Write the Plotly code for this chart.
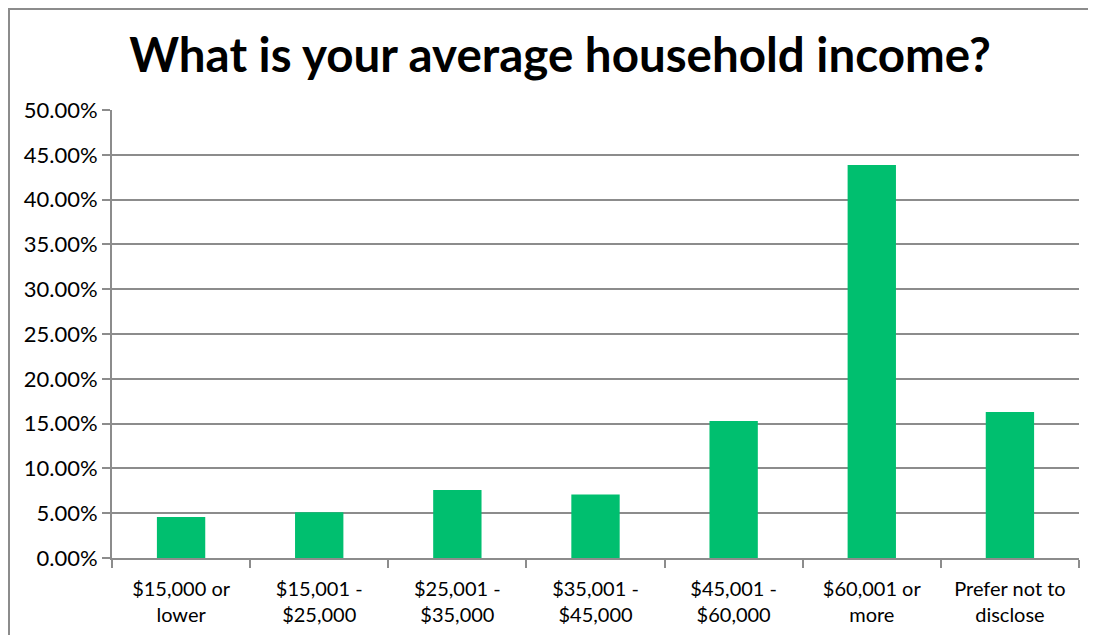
import plotly.graph_objects as go

categories = ["$15,000 or<br>lower", "$15,001 -<br>$25,000", "$25,001 -<br>$35,000",
              "$35,001 -<br>$45,000", "$45,001 -<br>$60,000", "$60,001 or<br>more",
              "Prefer not to<br>disclose"]
values = [0.0458, 0.0510, 0.0759, 0.0710, 0.1529, 0.4386, 0.1629]
y_ticks = [0, 0.05, 0.10, 0.15, 0.20, 0.25, 0.30, 0.35, 0.40, 0.45, 0.50]
y_tick_labels = ["0.00%", "5.00%", "10.00%", "15.00%", "20.00%", "25.00%",
                 "30.00%", "35.00%", "40.00%", "45.00%", "50.00%"]

OFF = 8  # page body margin
W, H = 1096 - 2 * OFF, 643 - 2 * OFF
L, R, T, B = 112 - OFF, 1079 - OFF, 110 - OFF, 558 - OFF

fig = go.Figure(go.Bar(x=categories, y=values, marker=dict(color="#00BF6F", line=dict(width=0)),
                       width=0.35))

grey = "#8C8C8C"
fig.update_layout(
    width=W, height=H,
    margin=dict(l=L, r=W - R, t=T, b=H - B, pad=0),
    paper_bgcolor="white", plot_bgcolor="white",
    font=dict(family="Lato, sans-serif", color="black", size=20),
    title=dict(text="<b>What is your average household income?</b>",
               font=dict(size=47.5, family="Lato, sans-serif", color="black"),
               x=(560 - OFF) / W, xref="container", xanchor="center",
               y=1 - (55 - OFF) / H, yref="container", yanchor="middle"),
    bargap=0.65,
    showlegend=False,
)
fig.update_xaxes(
    showgrid=False, showline=True, linecolor=grey, linewidth=2,
    ticks="outside", ticklen=8, tickcolor=grey, tickwidth=2,
    tickson="boundaries", tickfont=dict(size=20), ticklabelstandoff=12,
)
fig.update_yaxes(
    range=[0, 0.5], tickvals=y_ticks, ticktext=y_tick_labels,
    showgrid=True, gridcolor=grey, gridwidth=2,
    showline=True, linecolor=grey, linewidth=2,
    ticks="outside", ticklen=8, tickcolor=grey, tickwidth=2,
    tickfont=dict(size=22), zeroline=False,
)

def px_x(p):
    return (p - L) / (R - L)

def px_y(q):
    return (B - q) / (B - T)

# outer chart border (top and left edges visible in the reference)
fig.add_shape(type="line", xref="paper", yref="paper",
              x0=px_x(0), x1=px_x(W + 20), y0=px_y(1), y1=px_y(1),
              line=dict(color=grey, width=2), layer="below")
fig.add_shape(type="line", xref="paper", yref="paper",
              x0=px_x(1), x1=px_x(1), y0=px_y(0), y1=px_y(H + 20),
              line=dict(color=grey, width=2), layer="below")

fig.write_html("out.html")
